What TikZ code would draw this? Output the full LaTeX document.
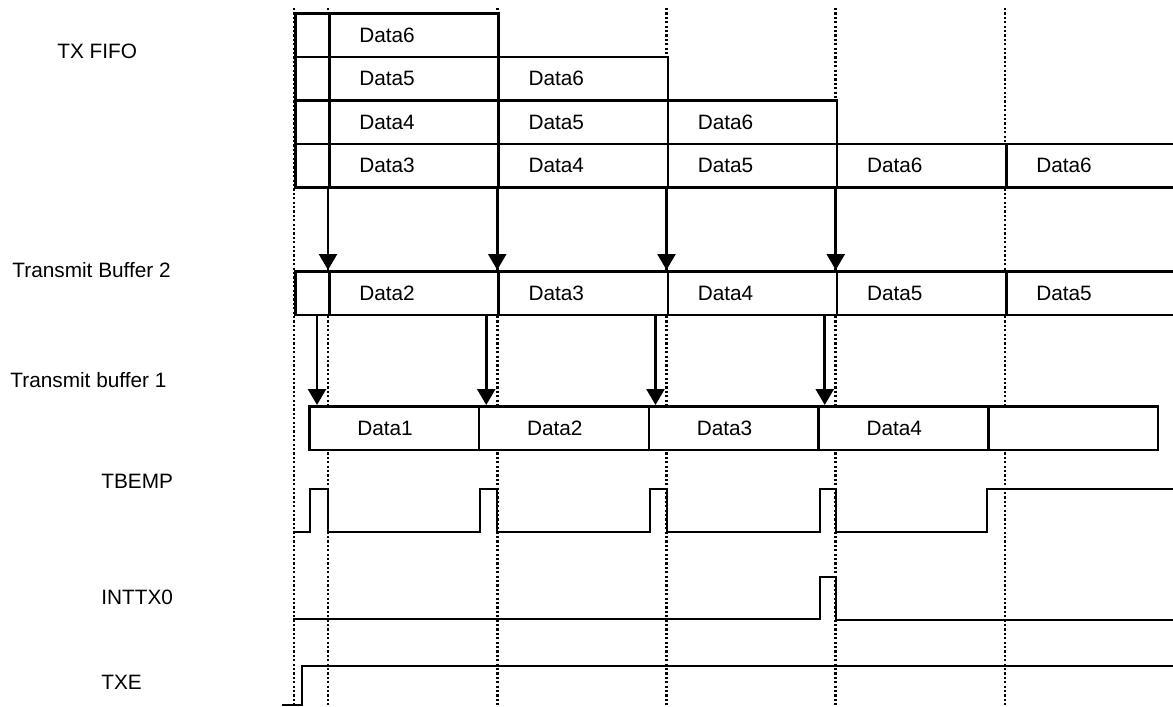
\documentclass[tikz,border=0pt]{standalone}
\usepackage{fontspec}
\setmainfont{Liberation Sans}
\usetikzlibrary{arrows.meta, positioning, calc}
\newcommand{\sigfont}{\fontsize{10.4}{12}\selectfont}
\tikzset{
  cellnode/.style={rectangle,draw=black,line width=1.3pt,fill=white,inner sep=0pt,
    minimum height=21.75pt,anchor=north west},
  datacell/.style={cellnode,text width=54.625pt,inner xsep=15pt,align=left,font=\sigfont},
  bufcell/.style={cellnode,text width=36.875pt,inner xsep=24pt,align=left,font=\sigfont},
  lbl/.style={anchor=west,inner sep=0pt,font=\sigfont},
  guide/.style={line width=1.3pt,dash pattern=on 1.1pt off 1.1pt},
  wave/.style={line width=1.2pt,line join=miter},
  arr/.style={-{Triangle[length=8pt,width=9pt]},line width=1.3pt}
}

\begin{document}
\begin{tikzpicture}[x=0.5pt,y=-0.5pt]

  \clip (0,0) rectangle (1173,707);

  % Guide lines
  \foreach \x in {294,328,497.25,666.5,835.75,1005}{
    \draw[guide] (\x,8) -- (\x,707);
  }

  % TX FIFO
  \node[lbl] (lfifo) at (57,51) {TX FIFO};
  \foreach \r/\n in {1/1,2/2,3/3,4/5}{
    \pgfmathsetmacro{\ytop}{12+(\r-1)*43.5}
    \node[cellnode,minimum width=17pt] (q\r0) at (294,\ytop) {};
    \foreach \c in {1,...,\n}{
      \pgfmathtruncatemacro{\d}{min(6,6-\r+\c)}
      \pgfmathsetmacro{\xl}{328+(\c-1)*169.25}
      \node[datacell] (q\r\c) at (\xl,\ytop) {Data\d};
    }
  }

  % Transmit buffer 2
  \node[lbl] (ltbb) at (12,270) {Transmit Buffer 2};
  \node[cellnode,minimum width=17pt] (tbb0) at (294,270) {};
  \foreach \c/\d in {1/2,2/3,3/4,4/5,5/5}{
    \pgfmathsetmacro{\xl}{328+(\c-1)*169.25}
    \node[datacell] (tbb\c) at (\xl,270) {Data\d};
  }

  % FIFO -> buffer 2
  \foreach \c in {1,...,4}{
    \draw[arr] (q4\c.south west) -- (tbb\c.north west);
  }

  % Transmit buffer 1
  \node[lbl] (ltba) at (10,380) {Transmit buffer 1};
  \foreach \c/\d in {1/{Data1},2/{Data2},3/{Data3},4/{Data4},5/{}}{
    \pgfmathsetmacro{\xl}{308+(\c-1)*169.75}
    \node[bufcell] (tba\c) at (\xl,405) {\d};
  }

  % buffer 2 -> buffer 1
  \foreach \c in {1,...,4}{
    \coordinate (s\c) at ([xshift=-5.5pt]tbb\c.south west);
    \draw[arr] (s\c) -- (s\c |- tba\c.north);
  }

  % TBEMP
  \node[lbl] (ltbemp) at (101,481) {TBEMP};
  \draw[wave] (293,532) -- (310,532) -- (310,489) -- (328,489) -- (328,532)
    -- (480,532) -- (480,489) -- (497,489) -- (497,532)
    -- (650,532) -- (650,489) -- (667,489) -- (667,532)
    -- (820,532) -- (820,489) -- (836,489) -- (836,532)
    -- (987,532) -- (987,489) -- (1180,489);

  % INTTX0
  \node[lbl] (linttx) at (101,597) {INTTX0};
  \draw[wave] (293,619) -- (820,619) -- (820,577) -- (836,577) -- (836,620) -- (1180,620);

  % TXE
  \node[lbl] (ltxe) at (101,682) {TXE};
  \draw[wave] (282,705) -- (302,705) -- (302,666) -- (1180,666);

\end{tikzpicture}
\end{document}
